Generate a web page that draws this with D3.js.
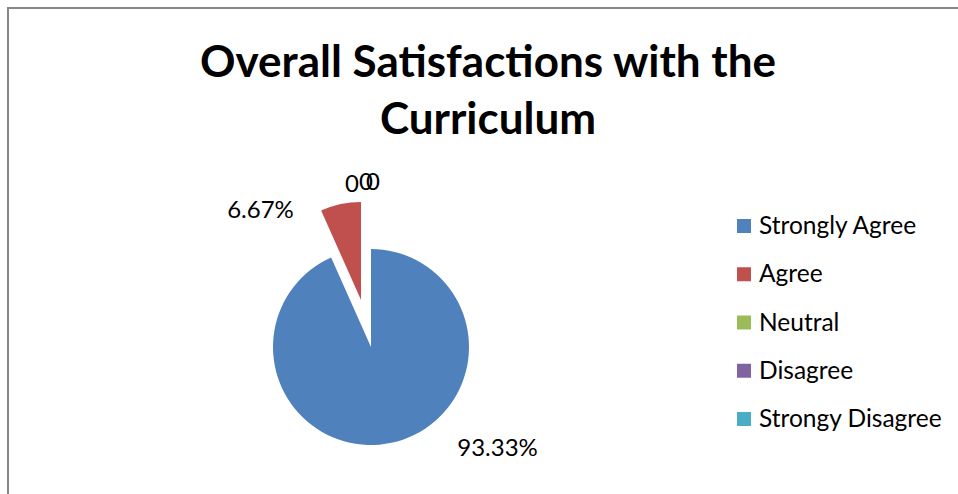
<!DOCTYPE html>
<html>
<head>
<meta charset="utf-8">
<script src="https://cdn.jsdelivr.net/npm/d3@7"></script>
<style>
  body { margin: 0; background: #fff; }
  svg { display: block; font-family: Lato, "Open Sans", sans-serif; }
</style>
</head>
<body>
<svg id="chart" width="958" height="494"></svg>
<script>
const categories = ["Strongly Agree", "Agree", "Neutral", "Disagree", "Strongy Disagree"];
const values = [93.33, 6.67, 0, 0, 0];
const valueLabels = ["93.33%", "6.67%", "0", "0", "0"];
const colors = ["#4F81BD", "#C0504D", "#9BBB59", "#8064A2", "#4BACC6"];
const titleLines = ["Overall Satisfactions with the", "Curriculum"];

const width = 958, height = 494;
const svg = d3.select("#chart");

svg.append("rect")
  .attr("width", width).attr("height", height)
  .attr("fill", "#fff");

// chart area border (runs off the right and bottom edges)
svg.append("rect")
  .attr("x", 8).attr("y", 8)
  .attr("width", width + 20).attr("height", height + 20)
  .attr("fill", "none")
  .attr("stroke", "#878787")
  .attr("stroke-width", 2);

// title
svg.append("g")
  .selectAll("text")
  .data(titleLines)
  .enter()
  .append("text")
  .attr("x", 488)
  .attr("y", function(d, i) { return 77 + i * 57; })
  .attr("text-anchor", "middle")
  .attr("font-size", 44)
  .attr("font-weight", "bold")
  .attr("fill", "#000")
  .text(function(d) { return d; });

// pie
const cx = 371, cy = 347, radius = 98;
const explode = [0, 48, 0, 0, 0];

const pie = d3.pie().sort(null).value(function(d) { return d; });
const arcs = pie(values);
const arc = d3.arc().innerRadius(0).outerRadius(radius);

function offset(d, i) {
  const a = (d.startAngle + d.endAngle) / 2;
  return [Math.sin(a) * explode[i], -Math.cos(a) * explode[i]];
}

const pieG = svg.append("g").attr("transform", "translate(" + cx + "," + cy + ")");

pieG.selectAll("path")
  .data(arcs)
  .enter()
  .append("path")
  .attr("d", arc)
  .attr("fill", function(d, i) { return colors[i]; })
  .attr("transform", function(d, i) {
    const o = offset(d, i);
    return "translate(" + o[0] + "," + o[1] + ")";
  });

// data labels, placed from the slice's outer arc with a nudge
const labelArc = d3.arc().innerRadius(radius + 20).outerRadius(radius + 20);
const labelNudge = [[102, -16], [-76, 24], [-19, -47], [-5, -49], [2, -49]];

pieG.selectAll("text.lbl")
  .data(arcs)
  .enter()
  .append("text")
  .attr("class", "lbl")
  .attr("x", function(d, i) { return labelArc.centroid(d)[0] + offset(d, i)[0] + labelNudge[i][0]; })
  .attr("y", function(d, i) { return labelArc.centroid(d)[1] + offset(d, i)[1] + labelNudge[i][1]; })
  .attr("text-anchor", "middle")
  .attr("dominant-baseline", "central")
  .attr("font-size", 24)
  .attr("fill", "#000")
  .text(function(d, i) { return valueLabels[i]; });

// legend
const legend = svg.append("g").attr("transform", "translate(737,219)");
const rowY = d3.scalePoint().domain(categories).range([0, 193]);

const item = legend.selectAll("g")
  .data(categories)
  .enter()
  .append("g")
  .attr("transform", function(d) { return "translate(0," + rowY(d) + ")"; });

item.append("rect")
  .attr("width", 14).attr("height", 14)
  .attr("fill", function(d, i) { return colors[i]; });

item.append("text")
  .attr("x", 22)
  .attr("y", 15)
  .attr("font-size", 24.5)
  .attr("fill", "#000")
  .text(function(d) { return d; });
</script>
</body>
</html>
